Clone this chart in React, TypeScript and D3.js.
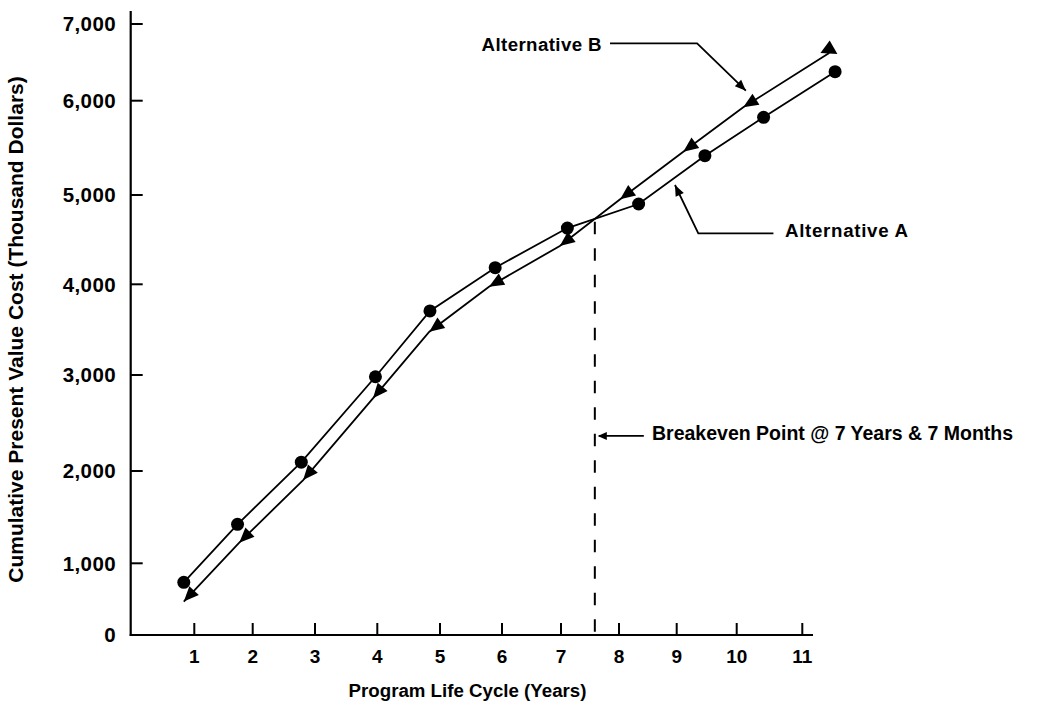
import React from 'react';
import * as d3 from 'd3';

// axis ticks
const yearTicks = [1, 2, 3, 4, 5, 6, 7, 8, 9, 10, 11];
const costTicks = [0, 1000, 2000, 3000, 4000, 5000, 6000, 7000];

// Alternative A (circles)
const altAYears = [0.82, 1.74, 2.78, 3.97, 4.84, 5.89, 7.11, 8.34, 9.47, 10.41, 11.5];
const altACost = [735, 1422, 2092, 2982, 3706, 4186, 4630, 4899, 5417, 5824, 6378];

// Alternative B (arrowheads)
const altBYears = [0.82, 1.77, 2.81, 3.93, 4.83, 5.79, 6.98, 8.02, 9.11, 10.1, 11.41];
const altBCost = [467, 1223, 1902, 2757, 3477, 3974, 4429, 4952, 5459, 5930, 6622];

const breakevenYear = 7 + 7 / 12;
const breakevenCost = 4735;

const W = 1056;
const H = 702;
const FONT = '"Liberation Sans", Arial, Helvetica, sans-serif';

// the printed axes are not evenly spaced, so the scales are piecewise
const x = d3.scaleLinear()
  .domain(yearTicks)
  .range([194.3, 252.7, 315, 377.3, 440, 502, 561, 619, 676.7, 736.7, 802.3]);

const y = d3.scaleLinear()
  .domain(costTicks)
  .range([635, 563.3, 471, 375, 284.3, 195, 100.7, 24]);

const axisLeftX = 130.7;
const axisRightX = 813;
const axisTopY = 11;
const baseY = y(0);

const fmt = d3.format(',');

// filled triangle with its tip at (tx, ty), pointing along angle a
const arrowHead = (tx: number, ty: number, a: number, len: number, half: number) => {
  const bx = tx - len * Math.cos(a);
  const by = ty - len * Math.sin(a);
  const px = -Math.sin(a) * half;
  const py = Math.cos(a) * half;
  return `M${tx},${ty}L${bx + px},${by + py}L${bx - px},${by - py}Z`;
};

const Chart: React.FC = () => {
  const line = d3.line<[number, number]>()
    .x(d => x(d[0]))
    .y(d => y(d[1]));

  const ptsA: [number, number][] = altAYears.map((v, i) => [v, altACost[i]]);
  const ptsB: [number, number][] = altBYears.map((v, i) => [v, altBCost[i]]);

  const bMarkers = ptsB.map((p, i) => {
    const tx = x(p[0]);
    const ty = y(p[1]);
    if (i === ptsB.length - 1) {
      // end marker points upward out of the line
      return arrowHead(tx + 0.5, ty - 12.5, -Math.PI / 2 + 0.06, 13, 8.5);
    }
    const nx = x(ptsB[i + 1][0]);
    const ny = y(ptsB[i + 1][1]);
    const a = Math.atan2(ty - ny, tx - nx);
    return arrowHead(tx, ty, a, 15, 6.5);
  });

  // leader for Alternative B
  const bLead: [number, number][] = [[7.845, 6748], [9.34, 6748], [10.14, 6130]];
  const bLeadPx = bLead.map(d => [x(d[0]), y(d[1])]);
  const bA = Math.atan2(bLeadPx[2][1] - bLeadPx[1][1], bLeadPx[2][0] - bLeadPx[1][0]);

  // leader for Alternative A
  const aLead: [number, number][] = [[10.56, 4571], [9.36, 4571], [8.97, 5106]];
  const aLeadPx = aLead.map(d => [x(d[0]), y(d[1])]);
  const aA = Math.atan2(aLeadPx[2][1] - aLeadPx[1][1], aLeadPx[2][0] - aLeadPx[1][0]);

  const bkX = x(breakevenYear);
  const bkArrowY = y(2365);

  return (
    <svg width={W} height={H} style={{ position: 'absolute', left: 0, top: 0, background: '#fff' }}
      fontFamily={FONT} fontWeight="bold">
      {/* axes */}
      <line x1={axisLeftX} x2={axisLeftX} y1={axisTopY} y2={baseY + 1} stroke="#000" strokeWidth={2.2} />
      <line x1={axisLeftX - 1} x2={axisRightX} y1={baseY} y2={baseY} stroke="#000" strokeWidth={2.2} />
      {costTicks.filter(t => t > 0).map(t => (
        <line key={'yt' + t} x1={axisLeftX} x2={axisLeftX + 12} y1={y(t)} y2={y(t)} stroke="#000" strokeWidth={2} />
      ))}
      {costTicks.map(t => (
        <text key={'yl' + t} x={116} y={y(t)} dy="0.36em" textAnchor="end" fontSize={20.5}
          letterSpacing={0.4}>{fmt(t)}</text>
      ))}
      {yearTicks.map(t => (
        <line key={'xt' + t} x1={x(t)} x2={x(t)} y1={baseY} y2={baseY - 12} stroke="#000" strokeWidth={2} />
      ))}
      {yearTicks.map(t => (
        <text key={'xl' + t} x={x(t)} y={663} textAnchor="middle" fontSize={19}>{t}</text>
      ))}
      <text x={467.5} y={697} textAnchor="middle" fontSize={18.7}>Program Life Cycle (Years)</text>
      <text transform="translate(23,329.5) rotate(-90)" textAnchor="middle" fontSize={21}>
        Cumulative Present Value Cost (Thousand Dollars)
      </text>

      {/* breakeven */}
      <line x1={bkX} x2={bkX} y1={y(breakevenCost)} y2={baseY - 2} stroke="#000" strokeWidth={2}
        strokeDasharray="12.5,14" strokeDashoffset={-3} />
      <line x1={bkX + 4} x2={bkX + 49} y1={bkArrowY} y2={bkArrowY} stroke="#000" strokeWidth={1.8} />
      <path d={arrowHead(bkX + 3, bkArrowY, Math.PI, 9, 4)} fill="#000" />
      <text x={652} y={440} fontSize={19.5}>Breakeven Point @ 7 Years &amp; 7 Months</text>

      {/* series */}
      <path d={line(ptsA) || ''} fill="none" stroke="#000" strokeWidth={1.8} />
      <path d={line(ptsB) || ''} fill="none" stroke="#000" strokeWidth={1.8} />
      {ptsA.map((p, i) => (
        <circle key={'a' + i} cx={x(p[0])} cy={y(p[1])} r={6.5} fill="#000" />
      ))}
      {bMarkers.map((d, i) => <path key={'b' + i} d={d} fill="#000" />)}

      {/* labels */}
      <text x={602} y={51} textAnchor="end" fontSize={18.7} letterSpacing={0.4}>Alternative B</text>
      <polyline points={bLeadPx.map(p => p.join(',')).join(' ')} fill="none" stroke="#000" strokeWidth={1.8} />
      <path d={arrowHead(bLeadPx[2][0], bLeadPx[2][1], bA, 11, 4.5)} fill="#000" />
      <text x={785} y={237} fontSize={18.7} letterSpacing={0.7}>Alternative A</text>
      <polyline points={aLeadPx.map(p => p.join(',')).join(' ')} fill="none" stroke="#000" strokeWidth={1.8} />
      <path d={arrowHead(aLeadPx[2][0], aLeadPx[2][1], aA, 11, 4.5)} fill="#000" />
    </svg>
  );
};

const App: React.FC = () => {
  return <Chart />;
};

export default App;
